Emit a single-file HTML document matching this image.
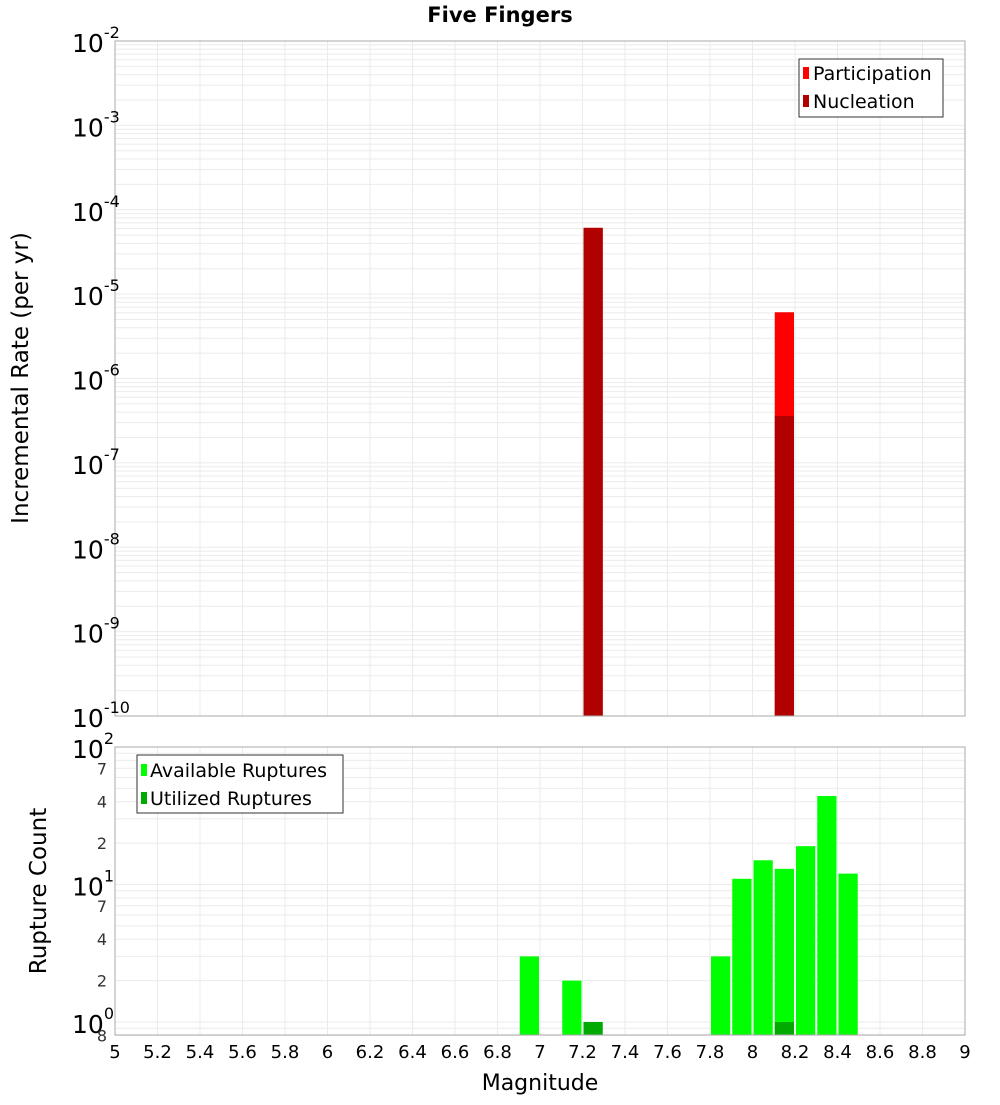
<!DOCTYPE html>
<html><head><meta charset="utf-8"><style>
body{margin:0;background:#fff;width:1000px;height:1100px;overflow:hidden}
svg{font-family:"DejaVu Sans","Liberation Sans",sans-serif}
</style></head><body>
<svg id="chart" width="1000" height="1100" xmlns="http://www.w3.org/2000/svg">
<text x="500" y="22" text-anchor="middle" font-size="21" font-weight="bold">Five Fingers</text>
<g id="topg"></g><g id="botg"></g>
<text transform="translate(28,378) rotate(-90)" text-anchor="middle" font-size="23">Incremental Rate (per yr)</text>
<text transform="translate(46,891) rotate(-90)" text-anchor="middle" font-size="23">Rupture Count</text>
<text x="540" y="1090" text-anchor="middle" font-size="22">Magnitude</text>
<g>
<rect x="799" y="59" width="144" height="58" fill="#fff" stroke="#333"/>
<rect x="803" y="67" width="6" height="12" fill="#ff0000"/>
<text x="813" y="80" font-size="19">Participation</text>
<rect x="803" y="95" width="6" height="12" fill="#b00000"/>
<text x="813" y="108" font-size="19">Nucleation</text>
</g>
<g>
<rect x="137" y="755" width="206" height="58" fill="#fff" stroke="#333"/>
<rect x="141" y="764" width="6" height="12" fill="#00ff00"/>
<text x="150" y="777" font-size="19">Available Ruptures</text>
<rect x="141" y="792" width="6" height="12" fill="#00aa00"/>
<text x="150" y="805" font-size="19">Utilized Ruptures</text>
</g>
</svg>
<script>
const partMags=[7.25,8.15];
const partRates=[6.1e-5,6.1e-6];
const nuclMags=[7.25,8.15];
const nuclRates=[6.1e-5,3.6e-7];
const countMags=[6.95,7.15,7.85,7.95,8.05,8.15,8.25,8.35,8.45];
const availCounts=[3,2,3,11,15,13,19,44,12];
const usedMags=[7.25,8.15];
const usedCounts=[1,1];
const xTicks=[5,5.2,5.4,5.6,5.8,6,6.2,6.4,6.6,6.8,7,7.2,7.4,7.6,7.8,8,8.2,8.4,8.6,8.8,9];

const NS="http://www.w3.org/2000/svg";
const svg=document.getElementById('chart');
const L=115,R=965;
const X=m=>L+(m-5)/4*(R-L);
const T0=41,T1=716;
const YT=v=>T0+(-2-Math.log10(v))/8*(T1-T0);
const B0=747,BZ=1022;
const YB=v=>BZ-Math.log10(v)*(BZ-B0)/2;
const B1=1035;
function el(tag,at,parent,txt){const e=document.createElementNS(NS,tag);for(const k in at)e.setAttribute(k,at[k]);if(txt!==undefined)e.textContent=txt;(parent||svg).appendChild(e);return e;}
const gTop=document.getElementById('topg'),gBot=document.getElementById('botg');
for(let d=-10;d<-2;d++){for(let k=1;k<10;k++){const y=YT(k*Math.pow(10,d));if(y<T0||y>T1)continue;
const g=el('line',{x1:L,x2:R,y1:y,y2:y,stroke:'#ebebeb','stroke-width':1},gTop);

}}
[0.8,0.9,1,2,3,4,5,6,7,8,9,10,20,30,40,50,60,70,80,90,100].forEach(v=>{const y=YB(v);
const g=el('line',{x1:L,x2:R,y1:y,y2:y,stroke:'#ebebeb','stroke-width':1},gBot);

});
xTicks.forEach(t=>{const x=X(t);
const g1=el('line',{x1:x,x2:x,y1:T0,y2:T1,stroke:'#ebebeb'},gTop);


const g2=el('line',{x1:x,x2:x,y1:B0,y2:B1,stroke:'#ebebeb'},gBot);


const lb=el('text',{x:x,y:1058,'text-anchor':'middle','font-size':18},svg,String(t));

});
const bw=(X(5.1)-X(5))-2;
partMags.forEach((m,i)=>{const y=YT(partRates[i]);
const b=el('rect',{x:X(m)-bw/2,y:y,width:bw,height:T1-y,fill:'#ff0000'},gTop);

});
nuclMags.forEach((m,i)=>{const y=YT(nuclRates[i]);
const b=el('rect',{x:X(m)-bw/2,y:y,width:bw,height:T1-y,fill:'#b00000'},gTop);

});
countMags.forEach((m,i)=>{const y=YB(availCounts[i]);
const b=el('rect',{x:X(m)-bw/2,y:y,width:bw,height:B1-y,fill:'#00ff00'},gBot);

});
usedMags.forEach((m,i)=>{const y=YB(usedCounts[i]);
const b=el('rect',{x:X(m)-bw/2,y:y,width:bw,height:B1-y,fill:'#00aa00'},gBot);

});
el('rect',{x:L,y:T0,width:R-L,height:T1-T0,fill:'none',stroke:'#aaa'},gTop);
el('rect',{x:L,y:B0,width:R-L,height:B1-B0,fill:'none',stroke:'#aaa'},gBot);
for(let d=-10;d<=-2;d++){const y=YT(Math.pow(10,d));
const t=el('text',{x:72,y:y+11,'font-size':25},gTop);


el('tspan',{},t,'10');el('tspan',{dy:-14,'font-size':16},t,String(d));}
[2,1,0].forEach(p=>{const y=YB(Math.pow(10,p));
const t=el('text',{x:72,y:y+11,'font-size':25},gBot);


el('tspan',{},t,'10');el('tspan',{dy:-14,'font-size':16},t,String(p));});
[2,4,7,20,40,70,0.8].forEach(v=>{const y=YB(v);
const t=el('text',{x:107,y:y+6,'font-size':16,'text-anchor':'end',fill:'#333'},gBot,v<1?'8':String(v)[0]);

});
</script>
</body></html>
